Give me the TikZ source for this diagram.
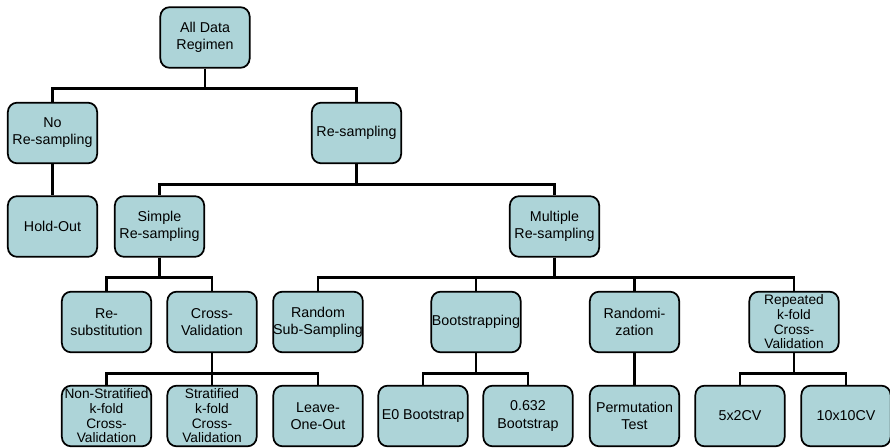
\documentclass[tikz,border=0pt]{standalone}
\usepackage{fontspec}
\setmainfont{Liberation Sans}
\definecolor{boxfill}{RGB}{173,212,216}
\begin{document}
\begin{tikzpicture}[x=0.75pt,y=-0.75pt,
  box/.style={draw=black, line width=1.3pt, fill=boxfill, rounded corners=7pt,
    minimum width=67pt, minimum height=45.5pt, align=center,
    inner xsep=0pt, inner ysep=1pt, font=\fontsize{10.7}{12.8}\selectfont},
  tall/.style={font=\fontsize{10.3}{11}\selectfont},
  link/.style={line width=2.2pt}
]
\useasboundingbox (0,0) rectangle (890,448);

% level 0
\node[box] (root) at (205,37.5) {All Data\\Regimen};
% level 1
\node[box] (nores) at (52.5,133) {No\\Re-sampling};
\node[box] (res) at (356.5,133) {Re-sampling};
% level 2
\node[box] (hold) at (52.5,226.5) {Hold-Out};
\node[box] (simple) at (159.5,226.5) {Simple\\Re-sampling};
\node[box] (multi) at (554.5,226.5) {Multiple\\Re-sampling};
% level 3
\node[box] (resub) at (106.5,322) {Re-\\substitution};
\node[box] (cv) at (212,322) {Cross-\\Validation};
\node[box] (rss) at (318,322) {Random\\Sub-Sampling};
\node[box] (boot) at (476,322) {Bootstrapping};
\node[box] (rand) at (634.5,322) {Randomi-\\zation};
\node[box,tall] (rep) at (794,322) {Repeated\\k-fold\\Cross-\\Validation};
% level 4
\node[box,tall] (nsk) at (106.5,416) {Non-Stratified\\k-fold\\Cross-\\Validation};
\node[box,tall] (sk) at (212,416) {Stratified\\k-fold\\Cross-\\Validation};
\node[box] (loo) at (318,416) {Leave-\\One-Out};
\node[box] (e0) at (423,416) {E0 Bootstrap};
\node[box] (b632) at (528,416) {0.632\\Bootstrap};
\node[box] (perm) at (634.5,416) {Permutation\\Test};
\node[box] (fivetwo) at (740,416) {5x2CV};
\node[box] (tenten) at (846,416) {10x10CV};

% tree connectors
\foreach \p/\c in {root/nores, root/res, nores/hold, res/simple, res/multi,
  simple/resub, simple/cv, multi/rss, multi/boot, multi/rand, multi/rep,
  cv/nsk, cv/sk, cv/loo, boot/e0, boot/b632, rand/perm, rep/fivetwo, rep/tenten}
  \draw[link] (\p.south) -- ++(0,-15pt) -| (\c.north);
\end{tikzpicture}
\end{document}
